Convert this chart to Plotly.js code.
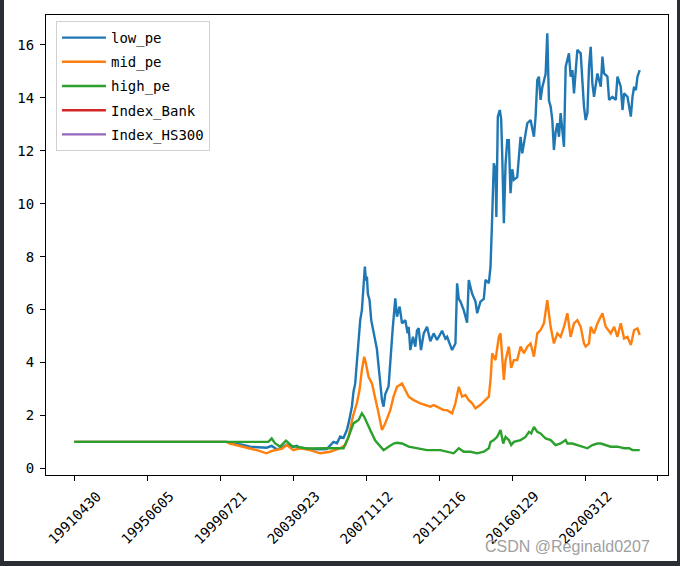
<!DOCTYPE html>
<html>
<head>
<meta charset="utf-8">
<script src="https://cdn.plot.ly/plotly-3.0.1.min.js"></script>
<style>
html,body{margin:0;padding:0;background:#2a2d34;width:680px;height:566px;overflow:hidden;}
#chart{position:absolute;left:4px;top:0;width:673px;height:561px;background:#fff;}
</style>
</head>
<body>
<div id="chart"></div>
<script>
// x = trading-day index, tick labels are dates at every 1000th row
const tickVals = [0,1000,2000,3000,4000,5000,6000,7000,8000];
const tickLabels = ["19910430","19950605","19990721","20030923","20071112","20111216","20160129","20200312"];

const lowX = [0,2088,2150,2300,2408,2500,2637,2706,2775,2820,2912,2981,3049,3095,3187,3232,3369,3461,3553,3600,3644,3690,3736,3759,3805,3827,3850,3873,3896,3919,3942,3965,3983,3997,4011,4024,4047,4070,4090,4125,4148,4184,4217,4239,4262,4308,4331,4363,4400,4423,4459,4492,4537,4569,4583,4606,4642,4674,4697,4720,4752,4790,4835,4880,4926,4972,5041,5086,5110,5155,5178,5224,5247,5270,5293,5338,5384,5407,5453,5499,5522,5567,5613,5636,5682,5705,5714,5728,5750,5773,5785,5805,5832,5851,5865,5888,5911,5934,5956,5979,6003,6025,6071,6117,6140,6185,6209,6254,6300,6323,6346,6368,6391,6415,6460,6483,6492,6506,6529,6552,6574,6597,6621,6643,6666,6689,6712,6735,6780,6803,6827,6849,6872,6895,6941,6964,6986,7009,7033,7055,7078,7101,7124,7170,7216,7239,7261,7307,7330,7376,7422,7445,7490,7514,7536,7582,7628,7651,7673,7697,7719,7750];
const lowY = [1.0,1.0,0.95,0.9,0.82,0.8,0.78,0.85,0.72,0.75,0.9,0.8,0.85,0.78,0.75,0.73,0.72,0.73,1.0,0.95,1.2,1.15,1.45,1.7,2.33,2.9,3.2,4.1,4.9,5.6,5.98,6.74,7.62,7.1,7.25,6.6,6.36,5.6,5.3,4.85,4.5,3.5,2.58,2.33,2.8,3.1,4.1,5.23,6.42,5.73,6.11,5.48,5.6,5.1,5.35,4.47,4.97,4.6,5.2,5.3,4.47,5.1,5.35,4.8,5.1,4.85,5.2,4.9,4.97,4.66,4.47,4.72,6.99,6.4,6.3,5.98,5.5,7.12,6.6,6.3,5.86,6.3,6.4,7.12,7.0,7.62,8.2,9.51,11.53,11.3,9.5,13.29,13.54,13.2,11.9,9.26,11.5,12.4,12.4,10.4,11.3,10.9,11.0,12.53,11.9,12.7,13.04,13.16,12.53,13.3,14.67,14.8,13.92,14.4,14.9,16.44,14.9,13.9,13.67,13.16,12.03,12.7,13.04,12.53,13.42,12.9,12.15,15.18,15.68,14.8,15.05,14.17,15.18,15.81,15.68,14.67,13.67,13.16,13.42,15.18,15.93,14.54,14.04,14.92,14.42,15.56,14.92,14.8,13.92,14.04,13.92,14.8,14.42,13.54,14.17,14.04,13.29,14.04,14.42,14.29,14.8,15.05];

const midX = [0,2088,2133,2250,2408,2500,2637,2700,2775,2850,2912,3003,3095,3232,3369,3507,3644,3713,3759,3818,3873,3910,3942,3974,3997,4033,4080,4125,4171,4217,4262,4331,4376,4423,4492,4537,4583,4651,4743,4880,4926,5063,5110,5178,5224,5270,5315,5361,5407,5453,5499,5567,5636,5682,5705,5728,5773,5819,5842,5865,5888,5911,5956,5988,6025,6071,6117,6163,6209,6254,6300,6346,6391,6437,6483,6529,6574,6621,6666,6712,6758,6803,6849,6895,6941,6986,7009,7055,7078,7124,7170,7239,7284,7353,7399,7445,7490,7536,7582,7628,7673,7719,7750];
const midY = [1.0,1.0,0.94,0.85,0.75,0.69,0.57,0.65,0.69,0.75,0.88,0.69,0.76,0.69,0.57,0.63,0.76,0.88,1.19,1.95,2.46,2.96,3.72,4.22,3.97,3.46,3.21,2.71,2.08,1.45,1.7,2.2,2.71,3.08,3.21,2.96,2.71,2.58,2.46,2.33,2.39,2.2,2.2,2.08,2.46,3.08,2.71,2.77,2.58,2.46,2.27,2.4,2.58,2.71,3.34,4.35,4.09,4.97,5.1,3.97,3.34,4.09,4.6,3.8,4.09,4.09,4.6,4.35,4.6,4.72,4.22,5.1,5.23,5.48,6.36,5.35,4.72,5.1,4.97,5.35,5.86,4.97,5.48,5.6,5.35,4.72,4.6,4.72,5.35,5.1,5.48,5.86,5.35,5.1,5.35,4.97,5.48,4.91,4.97,4.66,5.23,5.29,5.04];

const highX = [0,2660,2706,2750,2820,2902,2981,3095,3187,3461,3690,3759,3827,3896,3942,3974,4011,4056,4125,4194,4239,4308,4376,4423,4492,4583,4697,4835,5018,5110,5201,5270,5338,5430,5522,5613,5682,5705,5750,5796,5842,5879,5911,5956,5988,6025,6117,6185,6232,6263,6300,6346,6391,6460,6529,6597,6666,6735,6758,6827,6895,6986,7033,7101,7170,7216,7284,7353,7445,7536,7605,7651,7719,7750];
const highY = [1.0,1.0,1.13,0.95,0.82,1.05,0.85,0.8,0.75,0.76,0.76,1.19,1.7,1.83,2.08,1.95,1.7,1.45,1.05,0.82,0.69,0.82,0.94,0.97,0.94,0.82,0.76,0.69,0.69,0.63,0.57,0.76,0.63,0.63,0.57,0.63,0.76,1.0,1.07,1.19,1.45,0.94,1.19,1.07,0.88,1.0,1.07,1.19,1.38,1.32,1.57,1.38,1.32,1.13,1.07,0.88,0.94,1.07,0.94,0.94,0.88,0.82,0.76,0.88,0.94,0.94,0.88,0.82,0.82,0.76,0.76,0.69,0.69,0.69];

// Index columns have no values in the picture
const bankX = [0,7750];
const bankY = [null,null];
const hsX = [0,7750];
const hsY = [null,null];

const seriesNames = ["low_pe","mid_pe","high_pe","Index_Bank","Index_HS300"];
const seriesColors = ["#1f77b4","#ff7f0e","#2ca02c","#d62728","#9467bd"];
const xs = [lowX,midX,highX,bankX,hsX];
const ys = [lowY,midY,highY,bankY,hsY];

const FONT = "DejaVu Sans Mono";

const traces = seriesNames.map((n,i)=>({
  type:"scatter", mode:"lines", name:n, x:xs[i], y:ys[i],
  legendgroup:"g"+i,
  line:{color:seriesColors[i], width:2.4},
  connectgaps:false, hoverinfo:"skip"
}));

const annotations = tickLabels.map((t,i)=>({
  text:t, x:tickVals[i], xref:"x", y:0, yref:"paper", yshift:-11,
  xanchor:"center", yanchor:"top", textangle:-45, showarrow:false,
  font:{family:FONT, size:14, color:"#000"}
}));
annotations.push({
  text:"CSDN @Reginald0207", xref:"paper", yref:"paper", x:0.975, y:0,
  xanchor:"right", yanchor:"middle", yshift:-71, showarrow:false,
  font:{family:"Liberation Sans", size:16, color:"#a0a0a0"}
});

const layout = {
  width:673, height:561,
  margin:{l:42, r:9, t:15, b:86, pad:0},
  paper_bgcolor:"#fff", plot_bgcolor:"#fff",
  showlegend:true,
  legend:{x:0.016, y:0.987, xanchor:"left", yanchor:"top",
    bgcolor:"rgba(255,255,255,0.85)", bordercolor:"#d0d0d0", borderwidth:1,
    font:{family:FONT, size:14, color:"#000"}, tracegroupgap:3, traceorder:"grouped",
    itemwidth:44},
  xaxis:{range:[-387.5,8137.5], tickvals:tickVals, showticklabels:false,
    ticks:"outside", ticklen:5, tickwidth:1, tickcolor:"#000",
    showline:true, mirror:true, linecolor:"#000", linewidth:1,
    showgrid:false, zeroline:false},
  yaxis:{range:[-0.25,17.13], tickvals:[0,2,4,6,8,10,12,14,16],
    ticks:"outside", ticklen:5, tickwidth:1, tickcolor:"#000", ticklabelstandoff:3,
    showline:true, mirror:true, linecolor:"#000", linewidth:1,
    showgrid:false, zeroline:false,
    tickfont:{family:FONT, size:14, color:"#000"}},
  annotations:annotations
};

Plotly.newPlot("chart", traces, layout, {staticPlot:true, displayModeBar:false});
</script>
</body>
</html>
